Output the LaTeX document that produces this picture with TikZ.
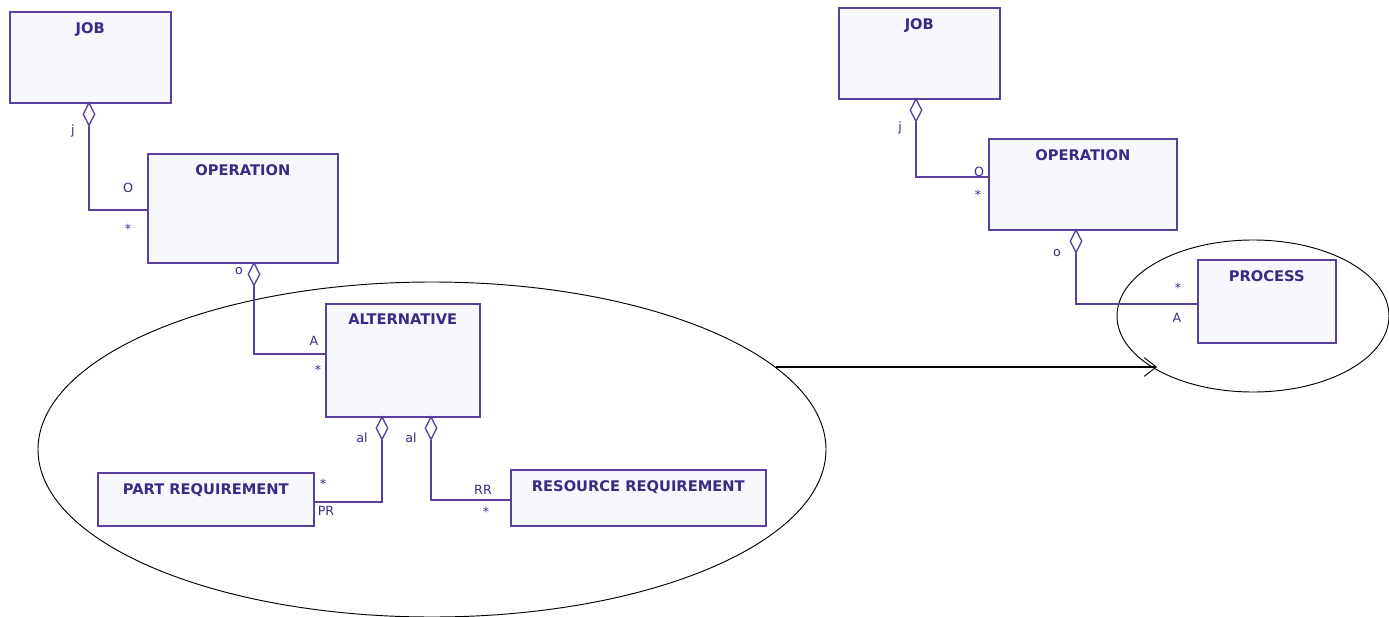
\documentclass[tikz,border=0pt]{standalone}
\usepackage{fontspec}
\setmainfont{DejaVu Sans}
\usetikzlibrary{shapes.geometric,arrows.meta}
\definecolor{umlline}{HTML}{5A3F9E}
\definecolor{umltext}{HTML}{3A2A84}
\definecolor{umlfill}{HTML}{F7F8FE}
\def\pxu{0.75pt}

\begin{document}
\begin{tikzpicture}[x=0.75pt,y=-0.75pt,
  box/.style={draw=umlline, fill=umlfill, line width=1.2pt, anchor=north west, inner sep=0pt},
  title/.style={font=\bfseries\fontsize{11}{13}\selectfont, text=umltext, inner sep=0pt, anchor=north, yshift=-11*\pxu},
  agg/.style={diamond, draw=umlline, fill=white, line width=1pt, minimum width=12*\pxu, minimum height=23*\pxu, inner sep=0pt, anchor=north},
  link/.style={draw=umlline, line width=1pt},
  role/.style={font=\fontsize{9.5}{11}\selectfont, text=umltext, inner sep=0pt},
  group/.style={draw=black, line width=0.7pt},
  becomes/.style={draw=black, line width=0.8pt, -{Straight Barb[length=9pt, width=14pt, line width=0.7pt]}}
]
\useasboundingbox (0,0) rectangle (1389,617);

% ---------- grouping ellipses ----------
\draw[group] (432,449.5) ellipse [x radius=394*\pxu, y radius=167.5*\pxu];
\draw[group] (1253,316) ellipse [x radius=136*\pxu, y radius=76*\pxu];

% ---------- left model ----------
\node[box, minimum width=161*\pxu, minimum height=91*\pxu, label={[title]north:JOB}] (job1) at (9,11) {};
\node[box, minimum width=190*\pxu, minimum height=109*\pxu, label={[title]north:OPERATION}] (op1) at (147,153) {};
\node[box, minimum width=154*\pxu, minimum height=113*\pxu, label={[title]north:ALTERNATIVE}] (alt) at (325,303) {};
\node[box, minimum width=216*\pxu, minimum height=53*\pxu, label={[title]north:PART REQUIREMENT}] (part) at (97,472) {};
\node[box, minimum width=255*\pxu, minimum height=56*\pxu, label={[title]north:RESOURCE REQUIREMENT}] (res) at (510,469) {};

\node[agg] (dj1) at (89,102) {};
\node[agg] (do1) at (254,262) {};
\node[agg] (dap) at (382,416) {};
\node[agg] (dar) at (431,416) {};

\draw[link] (dj1.south) |- (op1.west |- 0,210);
\draw[link] (do1.south) |- (alt.west |- 0,354);
\draw[link] (dap.south) |- (part.east |- 0,502);
\draw[link] (dar.south) |- (res.west |- 0,500);

\node[role] (r1) at (73,131) {j};
\node[role] (r2) at (128,188) {O};
\node[role] (r3) at (128,229) {*};
\node[role] (r4) at (239,271) {o};
\node[role] (r5) at (314,341) {A};
\node[role] (r6) at (318,370) {*};
\node[role] (r7) at (362,438) {al};
\node[role] (r8) at (411,438) {al};
\node[role] (r9) at (323,484) {*};
\node[role] (r10) at (326,511) {PR};
\node[role] (r11) at (483,490) {RR};
\node[role] (r12) at (486,512) {*};

% ---------- right model ----------
\node[box, minimum width=161*\pxu, minimum height=91*\pxu, label={[title]north:JOB}] (job2) at (838,7) {};
\node[box, minimum width=188*\pxu, minimum height=91*\pxu, label={[title]north:OPERATION}] (op2) at (988,138) {};
\node[box, minimum width=138*\pxu, minimum height=83*\pxu, label={[title]north:PROCESS}] (proc) at (1197,259) {};

\node[agg] (dj2) at (916,98) {};
\node[agg] (do2) at (1076,229) {};

\draw[link] (dj2.south) |- (op2.west |- 0,177);
\draw[link] (do2.south) |- (proc.west |- 0,304);

\node[role] (s1) at (900,128) {j};
\node[role] (s2) at (979,172) {O};
\node[role] (s3) at (978,195) {*};
\node[role] (s4) at (1057,253) {o};
\node[role] (s5) at (1178,288) {*};
\node[role] (s6) at (1177,318) {A};

% ---------- transformation arrow ----------
\coordinate (src) at (776,367);
\coordinate (dst) at (1157,367);
\draw[becomes] (src) -- (dst);
\end{tikzpicture}
\end{document}
